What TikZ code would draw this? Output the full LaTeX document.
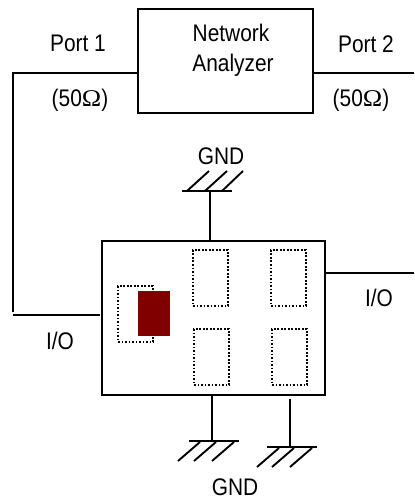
\documentclass[tikz,border=0pt]{standalone}
\usepackage{fontspec}
\setmainfont{Liberation Sans}
\newfontfamily\omegafont{Liberation Serif}
\definecolor{chipred}{HTML}{800000}
\tikzset{
  x=1pt,y=-1pt,
  wire/.style={line width=1.9pt,line cap=butt},
  boxed/.style={draw,line width=2.2pt,inner sep=0pt,outer sep=0pt,anchor=north west},
  dotbox/.style={draw,line width=1.4pt,dash pattern=on 1.6pt off 1.9pt,inner sep=0pt,outer sep=0pt,anchor=north west,minimum width=35pt,minimum height=56pt},
  lbl/.style={inner sep=0pt,font=\fontsize{24}{28}\selectfont,xscale=.87,transform shape},
  chip/.style={fill=chipred,inner sep=0pt,outer sep=0pt,anchor=north west,minimum width=32pt,minimum height=45pt}
}
\begin{document}
\begin{tikzpicture}
\useasboundingbox (0,0) rectangle (414,502);
\node[boxed,minimum width=175pt,minimum height=104pt] (na) at (138,9) {};
\node[boxed,minimum width=223pt,minimum height=154pt] (dut) at (102,241) {};
\node[dotbox] (d1) at (118,286) {};
\node[dotbox] (d2) at (193,250) {};
\node[dotbox] (d3) at (271,250) {};
\node[dotbox] (d4) at (194,329) {};
\node[dotbox] (d5) at (272,329) {};
\node[chip] (c) at (137.5,291) {};
% connectors
\coordinate (lc) at (13,73);
\coordinate (le) at (13,312);
\coordinate (ls) at (13,315);
\coordinate (lf) at (100,315);
\coordinate (re) at (414,73);
\coordinate (rio) at (414,273.2);
\draw[wire] (na.west |- lc) -- (lc) -- (le);
\draw[wire] (ls) -- (lf);
\draw[wire] (na.east |- re) -- (re);
\draw[wire] (dut.east |- rio) -- (rio);
% top ground
\coordinate (g1) at (210,191);
\draw[wire] (dut.north -| g1) -- (g1);
\draw[wire] (182,191) -- (232,191);
\foreach \a/\b in {187/209,205/227,222/243} \draw[wire] (\a,191) -- (\b,171);
% bottom grounds
\coordinate (g2) at (212,441);
\draw[wire] (dut.south -| g2) -- (g2);
\draw[wire] (189,441) -- (239,441);
\foreach \a/\b in {178/200,194/216,212/234} \draw[wire] (\a,461) -- (\b,442);
\coordinate (g3t) at (290,399);
\coordinate (g3) at (290,447);
\draw[wire] (g3t) -- (g3);
\draw[wire] (267,447) -- (317,447);
\foreach \a/\b in {257/279,272/294,290/312} \draw[wire] (\a,467) -- (\b,448);
% labels
\node[lbl] (p1) at (78,43) {Port 1};
\node[lbl] (p2) at (366,44) {Port 2};
\node[lbl] (t1) at (231,33) {Network};
\node[lbl] (t2) at (233,65) {Analyzer};
\node[lbl] (o1) at (80,100) {(50{\omegafont\scalebox{1.25}[1]{Ω}})};
\node[lbl] (o2) at (361,100) {(50{\omegafont\scalebox{1.25}[1]{Ω}})};
\node[lbl] (g) at (221,156) {GND};
\node[lbl] (gb) at (235,487) {GND};
\node[lbl] (io1) at (60,341) {I/O};
\node[lbl] (io2) at (379,298) {I/O};
\end{tikzpicture}
\end{document}
